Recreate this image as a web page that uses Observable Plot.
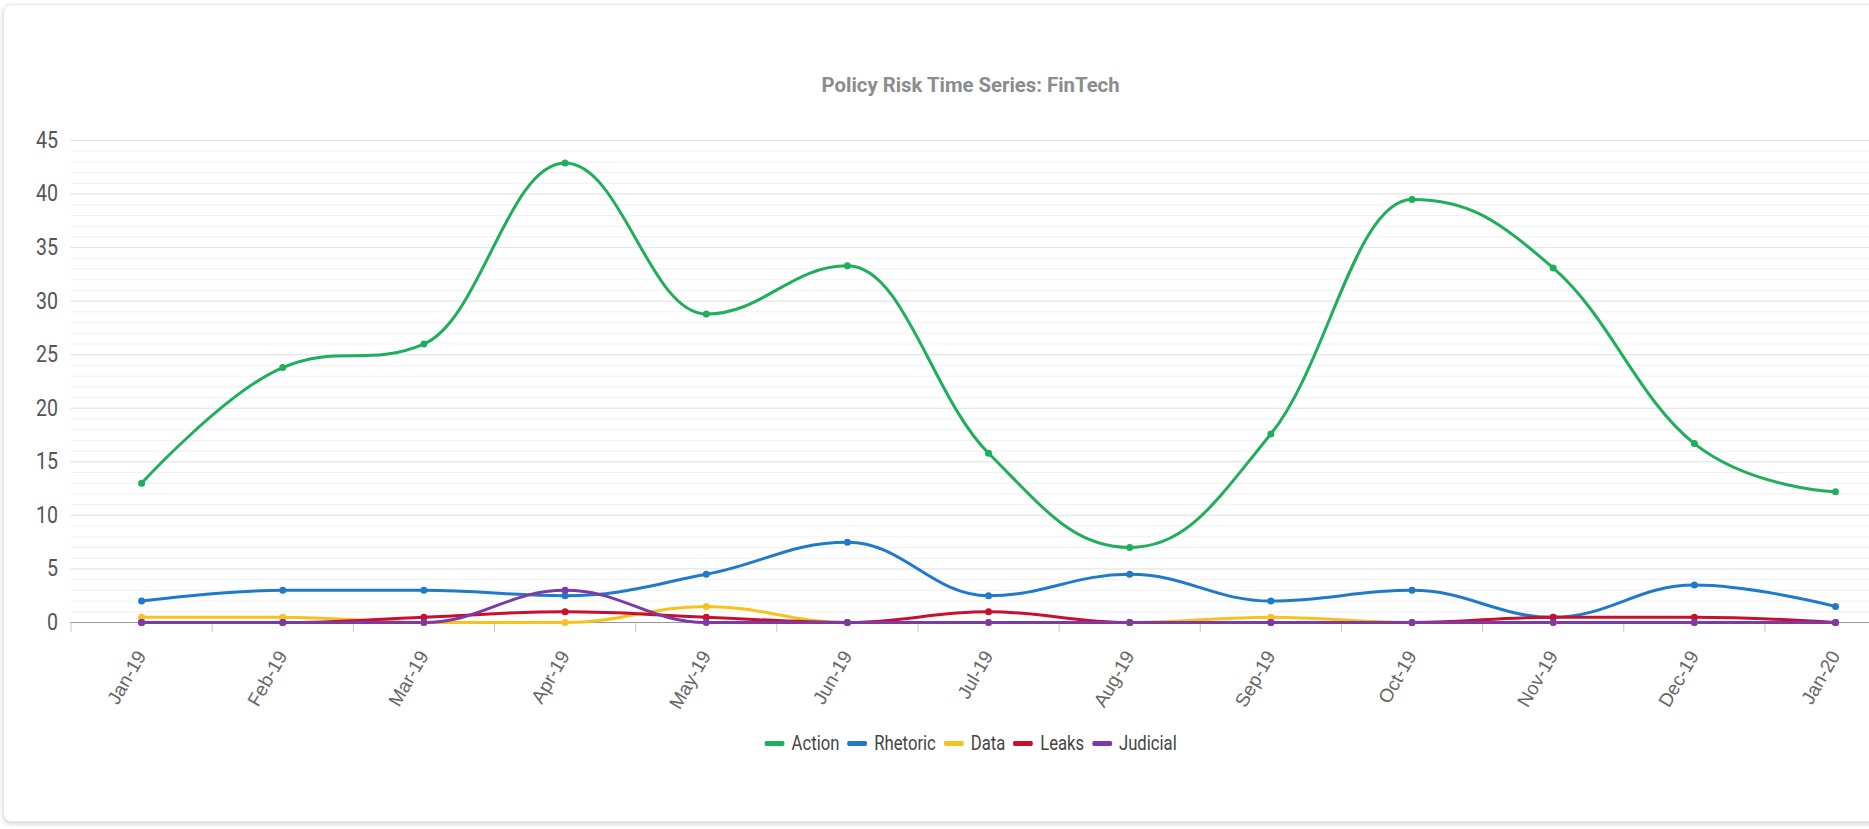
<!DOCTYPE html>
<html><head><meta charset="utf-8">
<script src="https://cdn.jsdelivr.net/npm/d3@7"></script>
<script src="https://cdn.jsdelivr.net/npm/@observablehq/plot@0.6"></script>
<style>
html,body{margin:0;padding:0;background:#fff;overflow:hidden;width:1869px;height:829px;}
#card{position:absolute;left:3px;top:4px;width:1990px;height:816px;border:1px solid #e8e8e8;border-radius:8px;box-shadow:0 2px 5px rgba(0,0,0,0.18);background:#fff;}
#titlewrap{position:absolute;left:0;width:1942px;top:73px;text-align:center;}
#title{display:inline-block;font-family:Roboto,sans-serif;font-weight:bold;font-size:20px;line-height:24px;color:#8c8c8c;transform-origin:50% 50%;white-space:nowrap;}
#chart{position:absolute;left:0;top:100px;width:1940px;}
#chart svg{max-width:none !important;}
#legendwrap{position:absolute;left:0;width:1942px;top:730px;text-align:center;}
#legend{display:inline-flex;align-items:center;font-family:Roboto,sans-serif;font-size:21px;line-height:26px;color:#444;transform-origin:50% 50%;white-space:nowrap;}
.item{display:flex;align-items:center;margin:0 5px;}
.sw{width:25px;height:5px;border-radius:2px;margin-right:9px;}
</style>
</head><body>
<div id="card"></div>
<div id="titlewrap"><span id="title">Policy Risk Time Series: FinTech</span></div>
<div id="chart"></div>
<div id="legendwrap"><div id="legend"></div></div>
<script>
const months = ["Jan-19","Feb-19","Mar-19","Apr-19","May-19","Jun-19","Jul-19","Aug-19","Sep-19","Oct-19","Nov-19","Dec-19","Jan-20"];
const seriesNames = ["Action","Rhetoric","Data","Leaks","Judicial"];
const seriesColors = ["#1fae5b","#1f7bc9","#f6c21c","#c8102e","#7b3aa6"];
const action   = [13.0, 23.8, 26.0, 42.9, 28.8, 33.3, 15.8, 7.0, 17.6, 39.5, 33.1, 16.7, 12.2];
const rhetoric = [2.0, 3.0, 3.0, 2.5, 4.5, 7.5, 2.5, 4.5, 2.0, 3.0, 0.5, 3.5, 1.5];
const dataS    = [0.5, 0.5, 0, 0, 1.5, 0, 0, 0, 0.5, 0, 0, 0, 0];
const leaks    = [0, 0, 0.5, 1.0, 0.5, 0, 1.0, 0, 0, 0, 0.5, 0.5, 0];
const judicial = [0, 0, 0, 3.0, 0, 0, 0, 0, 0, 0, 0, 0, 0];
const yTicks = [0,5,10,15,20,25,30,35,40,45];
const yMinor = d3.range(0, 46, 1);

const valuesBySeries = [action, rhetoric, dataS, leaks, judicial];
const rows = [];
seriesNames.forEach((s, k) => valuesBySeries[k].forEach((v, i) => rows.push({series: s, i, month: months[i], value: v})));
const idx = months.map((m, i) => i);
const bounds = months.map((m, i) => i - 0.5).concat([months.length - 0.5]);

// Highcharts-style spline as a d3 curve
function HCSpline(context){ this._context = context; }
HCSpline.prototype = {
  areaStart(){}, areaEnd(){},
  lineStart(){ this._pts = []; },
  point(x, y){ this._pts.push([+x, +y]); },
  lineEnd(){
    const p = this._pts, n = p.length, ctx = this._context;
    if (!n) return;
    const s = 1.5, den = s + 1;
    const lc = new Array(n).fill(null), rc = new Array(n).fill(null);
    for (let i = 1; i < n - 1; i++) {
      const [x, y] = p[i], [lx, ly] = p[i-1], [nx, ny] = p[i+1];
      let lcx = (s*x + lx)/den, lcy = (s*y + ly)/den, rcx = (s*x + nx)/den, rcy = (s*y + ny)/den;
      let corr = 0;
      if (rcx !== lcx) corr = ((rcy - lcy)*(rcx - x))/(rcx - lcx) + y - rcy;
      lcy += corr; rcy += corr;
      if (lcy > ly && lcy > y) { lcy = Math.max(ly, y); rcy = 2*y - lcy; }
      else if (lcy < ly && lcy < y) { lcy = Math.min(ly, y); rcy = 2*y - lcy; }
      if (rcy > ny && rcy > y) { rcy = Math.max(ny, y); lcy = 2*y - rcy; }
      else if (rcy < ny && rcy < y) { rcy = Math.min(ny, y); lcy = 2*y - rcy; }
      lc[i] = [lcx, lcy]; rc[i] = [rcx, rcy];
    }
    ctx.moveTo(p[0][0], p[0][1]);
    for (let i = 1; i < n; i++) {
      const a = rc[i-1] || p[i-1], b = lc[i] || p[i];
      ctx.bezierCurveTo(a[0], a[1], b[0], b[1], p[i][0], p[i][1]);
    }
  }
};
const hcSpline = ctx => new HCSpline(ctx);

const chart = Plot.plot({
  width: 1940,
  height: 622,
  marginLeft: 70.5,
  marginRight: 34.4,
  marginTop: 40,
  marginBottom: 100,
  style: {background: "transparent", overflow: "visible", maxWidth: "none"},
  x: {type: "linear", domain: [-0.5, months.length - 0.5]},
  y: {domain: [0, 45]},
  color: {domain: seriesNames, range: seriesColors},
  marks: [
    Plot.ruleY(yMinor, {stroke: "#f1f1f1", strokeWidth: 1}),
    Plot.ruleY(yTicks, {stroke: "#e3e3e3", strokeWidth: 1}),
    Plot.axisY({ticks: yTicks, tickSize: 0, tickPadding: 13, label: null, fontFamily: "Roboto, sans-serif", fontSize: 23, fill: "#555"}),
    Plot.axisX({ticks: bounds, tickSize: 10, tickFormat: () => "", stroke: "#c8c8c8", label: null}),
    Plot.axisX({ticks: idx, tickSize: 0, tickPadding: 30, tickRotate: -60, tickFormat: i => months[i], label: null,
                fontFamily: '"Liberation Sans",Arial,sans-serif', fontSize: 19, fill: "#666"}),
    Plot.ruleY([0], {stroke: "#999", strokeWidth: 1}),
    Plot.line(rows, {x: "i", y: "value", z: "series", stroke: "series", strokeWidth: 3, curve: hcSpline}),
    Plot.dot(rows, {x: "i", y: "value", fill: "series", r: 3.5, stroke: null})
  ]
});
document.getElementById("chart").appendChild(chart);

// condense the y tick labels horizontally (narrow typeface look)
d3.select(chart).selectAll('g[aria-label="y-axis tick label"] text').each(function() {
  const bb = this.getBBox();
  const cx = bb.x + bb.width;
  const cy = bb.y + bb.height / 2;
  const prev = this.getAttribute("transform") || "";
  this.setAttribute("transform", `${prev} translate(${cx},${cy}) scale(0.85,1) translate(${-cx},${-cy})`);
});

const legend = document.getElementById("legend");
seriesNames.forEach((s, k) => {
  const it = document.createElement("div"); it.className = "item";
  const sw = document.createElement("div"); sw.className = "sw"; sw.style.background = seriesColors[k];
  const lb = document.createElement("span"); lb.textContent = s;
  it.appendChild(sw); it.appendChild(lb); legend.appendChild(it);
});
// narrow look: fit title and legend to their widths in the reference
const fit = (el, target) => { const w = el.getBoundingClientRect().width; el.style.transform = `scaleX(${target / w})`; };
fit(document.getElementById("title"), 298);
fit(legend, 420);
</script>
</body></html>
